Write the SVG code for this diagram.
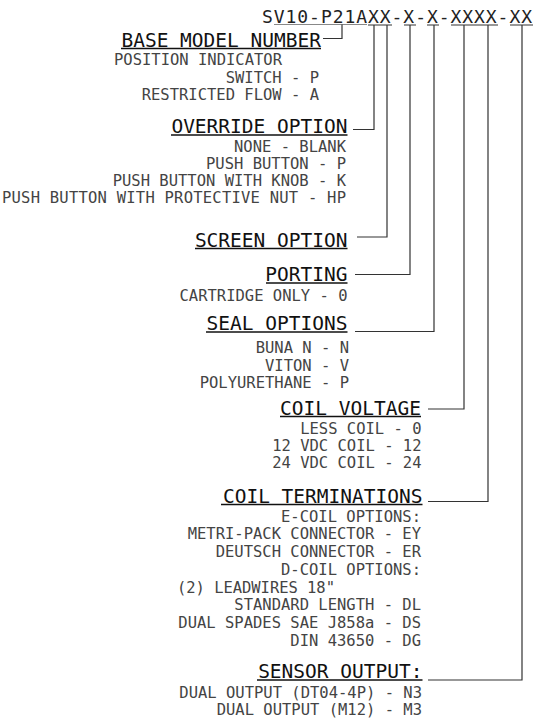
<svg xmlns="http://www.w3.org/2000/svg" width="533" height="722" viewBox="0 0 533 722">
<style>
.ttl{font-family:"DejaVu Sans Mono","Liberation Mono",monospace;font-size:18px;fill:#222}
.h{font-family:"DejaVu Sans Mono","Liberation Mono",monospace;font-size:19.5px;fill:#111;text-anchor:end}
.t{font-family:"DejaVu Sans Mono","Liberation Mono",monospace;font-size:15.5px;fill:#444;text-anchor:end}
.ul{stroke:#111;stroke-width:1.5;fill:none}
.c{stroke:#333;stroke-width:1.2;fill:none}
</style>
<rect width="533" height="722" fill="#fff"/>
<g id="title">
<text class="ttl" x="262" y="22.5" textLength="270" lengthAdjust="spacing">SV10-P21AXX-X-X-XXXX-XX</text>
<path d="M274 24.5H367" stroke="#888" stroke-width="1"/>
<path class="c" d="M368 25H392M404 25H416M427 25H439M451 25H498M510 25H533"/>
</g>
<g id="base-model">
<text class="h" x="321" y="46.5">BASE MODEL NUMBER</text>
<path class="ul" d="M121 48.5H321"/>
<text class="t" x="114" y="65" style="text-anchor:start">POSITION INDICATOR</text>
<text class="t" x="319" y="82.5">SWITCH - P</text>
<text class="t" x="319" y="100">RESTRICTED FLOW - A</text>
</g>
<g id="override">
<text class="h" x="347.5" y="133">OVERRIDE OPTION</text>
<path class="ul" d="M171 135H347.5"/>
<text class="t" x="346" y="152">NONE - BLANK</text>
<text class="t" x="346" y="169">PUSH BUTTON - P</text>
<text class="t" x="346" y="186">PUSH BUTTON WITH KNOB - K</text>
<text class="t" x="346" y="203" textLength="344" lengthAdjust="spacing">PUSH BUTTON WITH PROTECTIVE NUT - HP</text>
</g>
<g id="screen">
<text class="h" x="347.5" y="246.5">SCREEN OPTION</text>
<path class="ul" d="M195 248.5H347.5"/>
</g>
<g id="porting">
<text class="h" x="347.5" y="281">PORTING</text>
<path class="ul" d="M266 283H347.5"/>
<text class="t" x="347.5" y="300.5">CARTRIDGE ONLY - 0</text>
</g>
<g id="seal">
<text class="h" x="347.5" y="330">SEAL OPTIONS</text>
<path class="ul" d="M206 332H347.5"/>
<text class="t" x="349" y="353.3">BUNA N - N</text>
<text class="t" x="349" y="370.8">VITON - V</text>
<text class="t" x="349" y="388.3">POLYURETHANE - P</text>
</g>
<g id="coil-voltage">
<text class="h" x="421" y="414.5">COIL VOLTAGE</text>
<path class="ul" d="M280 416.5H421"/>
<text class="t" x="421.5" y="433.8">LESS COIL -  0</text>
<text class="t" x="421.5" y="451.1">12 VDC COIL - 12</text>
<text class="t" x="421.5" y="468.4">24 VDC COIL - 24</text>
</g>
<g id="coil-terminations">
<text class="h" x="422.5" y="502.5">COIL TERMINATIONS</text>
<path class="ul" d="M221 504.5H422.5"/>
<text class="t" x="421" y="521.7">E-COIL OPTIONS:</text>
<text class="t" x="421" y="539.4">METRI-PACK CONNECTOR - EY</text>
<text class="t" x="421" y="557.1">DEUTSCH CONNECTOR - ER</text>
<text class="t" x="421" y="574.8">D-COIL OPTIONS:</text>
<text class="t" x="177" y="592.5" style="text-anchor:start" textLength="158" lengthAdjust="spacing">(2) LEADWIRES 18"</text>
<text class="t" x="421" y="610.2">STANDARD LENGTH - DL</text>
<text class="t" x="421" y="627.9">DUAL SPADES SAE J858a - DS</text>
<text class="t" x="421" y="645.6">DIN 43650 - DG</text>
</g>
<g id="sensor-output">
<text class="h" x="422.5" y="678">SENSOR OUTPUT:</text>
<path class="ul" d="M257 680H422.5"/>
<text class="t" x="422" y="697.8">DUAL OUTPUT (DT04-4P) - N3</text>
<text class="t" x="422" y="715">DUAL OUTPUT (M12) - M3</text>
</g>
<g id="connectors">
<path class="c" d="M323 38.5H342V24.5"/>
<path class="c" d="M353 129.5H374V25"/>
<path class="c" d="M357 237H387V25"/>
<path class="c" d="M355 274.5H410V25"/>
<path class="c" d="M355 331.5H434V25"/>
<path class="c" d="M428 409H464V25"/>
<path class="c" d="M428 501.5H488V25"/>
<path class="c" d="M428 680H522V25"/>
</g>
</svg>
